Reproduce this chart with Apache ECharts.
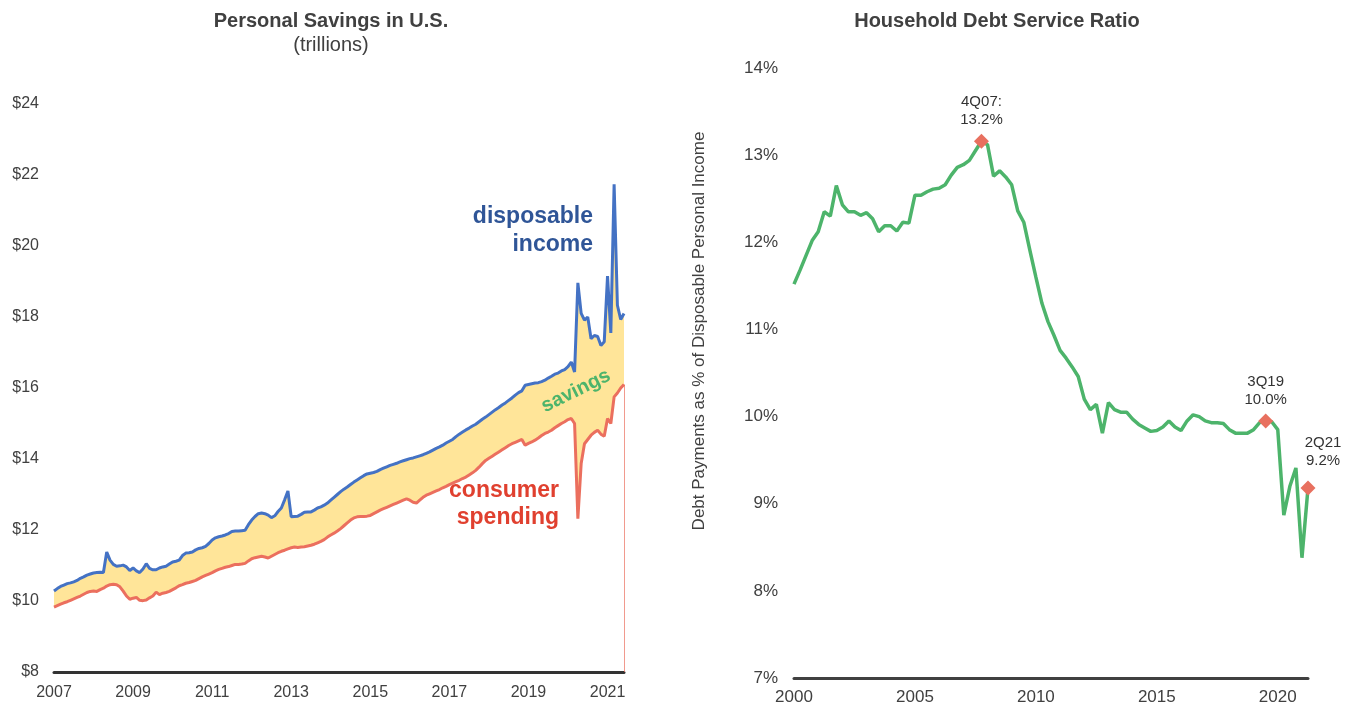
<!DOCTYPE html>
<html>
<head>
<meta charset="utf-8">
<script src="https://cdn.jsdelivr.net/npm/echarts@6/dist/echarts.min.js"></script>
<style>
  html, body { margin: 0; padding: 0; background: #fff; }
  #chart { width: 1346px; height: 710px; }
</style>
</head>
<body>
<div id="chart"></div>
<script>
// personal savings, trillions, monthly Jan 2007 - Jun 2021
const incomeValues = [
  10.28, 10.35, 10.41, 10.45, 10.49, 10.51, 10.54, 10.58, 10.64, 10.68, 10.73, 10.76,
  10.79, 10.80, 10.81, 10.80, 11.38, 11.15, 11.03, 10.98, 10.99, 11.01, 10.96, 10.86,
  10.93, 10.85, 10.80, 10.90, 11.05, 10.92, 10.88, 10.88, 10.93, 10.96, 10.98, 11.04,
  11.10, 11.12, 11.15, 11.28, 11.35, 11.36, 11.38, 11.44, 11.48, 11.50, 11.54, 11.62,
  11.72, 11.78, 11.81, 11.83, 11.86, 11.90, 11.96, 11.97, 11.97, 11.98, 11.99, 12.15,
  12.28, 12.38, 12.46, 12.48, 12.46, 12.42, 12.35, 12.40, 12.52, 12.62, 12.85, 13.10,
  12.37, 12.38, 12.39, 12.44, 12.50, 12.51, 12.51, 12.56, 12.62, 12.65, 12.70, 12.76,
  12.84, 12.92, 13.00, 13.08, 13.15, 13.21, 13.28, 13.35, 13.41, 13.47, 13.53, 13.58,
  13.60, 13.62, 13.65, 13.70, 13.74, 13.78, 13.82, 13.85, 13.88, 13.92, 13.95, 13.98,
  14.01, 14.03, 14.06, 14.09, 14.12, 14.16, 14.20, 14.25, 14.30, 14.34, 14.39, 14.45,
  14.50, 14.55, 14.63, 14.70, 14.76, 14.82, 14.87, 14.93, 14.98, 15.05, 15.12, 15.18,
  15.25, 15.32, 15.39, 15.45, 15.52, 15.58, 15.65, 15.72, 15.80, 15.87, 15.92, 16.08,
  16.10, 16.12, 16.14, 16.15, 16.18, 16.22, 16.28, 16.33, 16.39, 16.42, 16.48, 16.52,
  16.60, 16.73, 16.45, 18.96, 18.10, 17.91, 18.00, 17.39, 17.48, 17.45, 17.20, 17.30,
  19.15, 17.55, 21.74, 18.33, 17.93, 18.10
];
const spendingValues = [
  9.83, 9.87, 9.91, 9.95, 9.98, 10.02, 10.06, 10.10, 10.14, 10.19, 10.24, 10.27,
  10.28, 10.27, 10.32, 10.36, 10.42, 10.46, 10.47, 10.46, 10.40, 10.28, 10.14, 10.05,
  10.08, 10.10, 10.02, 10.01, 10.03, 10.09, 10.14, 10.25, 10.18, 10.22, 10.24, 10.27,
  10.32, 10.37, 10.43, 10.46, 10.50, 10.52, 10.55, 10.58, 10.63, 10.68, 10.72, 10.76,
  10.80, 10.85, 10.89, 10.92, 10.95, 10.97, 11.00, 11.03, 11.03, 11.04, 11.06, 11.13,
  11.19, 11.22, 11.24, 11.26, 11.24, 11.21, 11.26, 11.31, 11.36, 11.40, 11.43, 11.47,
  11.50, 11.52, 11.51, 11.52, 11.53, 11.55, 11.57, 11.60, 11.64, 11.68, 11.73, 11.80,
  11.86, 11.91, 11.97, 12.04, 12.12, 12.20, 12.28, 12.34, 12.37, 12.38, 12.38, 12.39,
  12.41, 12.46, 12.51, 12.56, 12.60, 12.64, 12.68, 12.72, 12.76, 12.80, 12.84, 12.88,
  12.84, 12.78, 12.76, 12.84, 12.92, 12.98, 13.02, 13.06, 13.10, 13.14, 13.19, 13.23,
  13.28, 13.32, 13.36, 13.40, 13.45, 13.49, 13.55, 13.61, 13.68, 13.77, 13.87, 13.96,
  14.02, 14.08, 14.14, 14.20, 14.26, 14.32, 14.38, 14.43, 14.47, 14.51, 14.55, 14.39,
  14.44, 14.48, 14.53, 14.59, 14.66, 14.72, 14.76, 14.81, 14.88, 14.94, 15.00, 15.05,
  15.11, 15.14, 15.00, 12.32, 13.87, 14.43, 14.55, 14.67, 14.75, 14.81, 14.70, 14.64,
  15.14, 15.00, 15.75, 15.86, 16.00, 16.10
];
const savingsTicks = [8, 24, 2];

// debt service ratio, %, quarterly 2000Q1 - 2021Q2
const dsrValues = [
  11.52, 11.68, 11.85, 12.02, 12.12, 12.35, 12.30, 12.65, 12.43, 12.35, 12.35, 12.31,
  12.34, 12.27, 12.12, 12.19, 12.19, 12.13, 12.23, 12.22, 12.54, 12.54, 12.58, 12.61,
  12.62, 12.66, 12.77, 12.86, 12.89, 12.94, 13.05, 13.16, 13.12, 12.76, 12.82, 12.75,
  12.66, 12.36, 12.23, 11.91, 11.60, 11.30, 11.09, 10.93, 10.76, 10.67, 10.57, 10.46,
  10.20, 10.08, 10.14, 9.81, 10.16, 10.08, 10.05, 10.05, 9.97, 9.91, 9.87, 9.83,
  9.84, 9.88, 9.95, 9.88, 9.84, 9.95, 10.02, 10.00, 9.95, 9.93, 9.93, 9.92,
  9.85, 9.81, 9.81, 9.81, 9.85, 9.93, 9.95, 9.94, 9.85, 8.87, 9.20, 9.41,
  8.38, 9.18
];
const dsrTicks = [7, 14, 1];
const highlightQuarters = ['2007Q4', '2019Q3', '2021Q2'];
const highlightLabels = ['4Q07:\n13.2%', '3Q19\n10.0%', '2Q21\n9.2%'];

// categories
const months = [];
for (let y = 2007; months.length < incomeValues.length; y++) {
  for (let m = 1; m <= 12 && months.length < incomeValues.length; m++) {
    months.push(y + '-' + (m < 10 ? '0' + m : m));
  }
}
const quarters = [];
for (let y = 2000; quarters.length < dsrValues.length; y++) {
  for (let q = 1; q <= 4 && quarters.length < dsrValues.length; q++) {
    quarters.push(y + 'Q' + q);
  }
}

const FONT = '"Liberation Sans", Arial, sans-serif';
const TEXT = '#404040';
const BLUE = '#4472C4';
const RED = '#EB6F5E';
const GREEN = '#4DB46B';
const YELLOW = '#FFE599';

// label nudges for the annotated points (layout only)
const labelOffsets = [[0, 0], [0, 0], [15, -6]];

const gapValues = incomeValues.map((v, i) => +(v - spendingValues[i]).toFixed(2));
const highlightData = highlightQuarters.map((q, i) => {
  const idx = quarters.indexOf(q);
  return {
    value: [q, dsrValues[idx]],
    label: { formatter: highlightLabels[i], offset: labelOffsets[i] }
  };
});
const lastMonth = months[months.length - 1];

const chart = echarts.init(document.getElementById('chart'));

chart.setOption({
  animation: false,
  textStyle: { fontFamily: FONT },
  title: [
    {
      text: 'Personal Savings in U.S.',
      subtext: '(trillions)',
      left: 326, top: 6, textAlign: 'center', itemGap: 4,
      textStyle: { fontFamily: FONT, fontSize: 20, fontWeight: 'bold', color: TEXT },
      subtextStyle: { fontFamily: FONT, fontSize: 20, color: TEXT }
    },
    {
      text: 'Household Debt Service Ratio',
      left: 992, top: 6, textAlign: 'center',
      textStyle: { fontFamily: FONT, fontSize: 20, fontWeight: 'bold', color: TEXT }
    }
  ],
  grid: [
    { left: 54, right: 722, top: 104, bottom: 38 },
    { left: 794, right: 38, top: 68, bottom: 32 }
  ],
  xAxis: [
    {
      type: 'category', gridIndex: 0, data: months, boundaryGap: false,
      axisLine: { lineStyle: { color: '#333', width: 3 } },
      axisTick: { show: false },
      axisLabel: {
        color: TEXT, fontSize: 16, fontFamily: FONT, margin: 13,
        interval: (i, v) => v.endsWith('-01') && (+v.slice(0, 4)) % 2 === 1,
        formatter: v => v.slice(0, 4)
      }
    },
    {
      type: 'category', gridIndex: 1, data: quarters, boundaryGap: false,
      axisLine: { lineStyle: { color: '#404040', width: 3 } },
      axisTick: { show: false },
      axisLabel: {
        color: TEXT, fontSize: 17, fontFamily: FONT, margin: 11,
        interval: (i, v) => v.endsWith('Q1') && (+v.slice(0, 4)) % 5 === 0,
        formatter: v => v.slice(0, 4)
      }
    }
  ],
  yAxis: [
    {
      type: 'value', gridIndex: 0,
      min: savingsTicks[0], max: savingsTicks[1], interval: savingsTicks[2],
      axisLine: { show: false }, axisTick: { show: false }, splitLine: { show: false },
      axisLabel: { color: TEXT, fontSize: 16, fontFamily: FONT, margin: 15, formatter: v => '$' + v }
    },
    {
      type: 'value', gridIndex: 1,
      min: dsrTicks[0], max: dsrTicks[1], interval: dsrTicks[2],
      axisLine: { show: false }, axisTick: { show: false }, splitLine: { show: false },
      axisLabel: { color: TEXT, fontSize: 17, fontFamily: FONT, margin: 16, formatter: v => v + '%' }
    }
  ],
  series: [
    {
      name: 'base', type: 'line', stack: 'gap', xAxisIndex: 0, yAxisIndex: 0,
      data: spendingValues, symbol: 'none', lineStyle: { width: 0 }, silent: true
    },
    {
      name: 'savings', type: 'line', stack: 'gap', xAxisIndex: 0, yAxisIndex: 0,
      data: gapValues, symbol: 'none', lineStyle: { width: 0 },
      areaStyle: { color: YELLOW, opacity: 1 }, silent: true
    },
    {
      name: 'disposable income', type: 'line', xAxisIndex: 0, yAxisIndex: 0,
      data: incomeValues, symbol: 'none', lineStyle: { color: BLUE, width: 3 }
    },
    {
      name: 'consumer spending', type: 'line', xAxisIndex: 0, yAxisIndex: 0,
      data: spendingValues, symbol: 'none', lineStyle: { color: RED, width: 3 },
      markLine: {
        silent: true, symbol: 'none', label: { show: false },
        lineStyle: { color: RED, width: 1, type: 'solid', opacity: 0.7 },
        data: [[
          { coord: [lastMonth, savingsTicks[0]] },
          { coord: [lastMonth, spendingValues[spendingValues.length - 1]] }
        ]]
      }
    },
    {
      name: 'debt service ratio', type: 'line', xAxisIndex: 1, yAxisIndex: 1,
      data: dsrValues, symbol: 'none', lineStyle: { color: GREEN, width: 3.5 }
    },
    {
      name: 'highlights', type: 'scatter', xAxisIndex: 1, yAxisIndex: 1, z: 10,
      data: highlightData, symbol: 'diamond', symbolSize: 15,
      itemStyle: { color: '#E8705F', opacity: 1 },
      emphasis: { disabled: true },
      label: {
        show: true, position: 'top', distance: 5,
        color: '#333', fontSize: 15, fontFamily: FONT, lineHeight: 18, align: 'center'
      }
    }
  ],
  graphic: [
    {
      type: 'text', x: 699, y: 331, z: 100, rotation: Math.PI / 2,
      style: {
        text: 'Debt Payments as % of Disposable Personal Income',
        fill: TEXT, font: '17px ' + FONT, align: 'center', verticalAlign: 'middle'
      }
    },
    {
      type: 'text', x: 593, y: 231, z: 100,
      style: {
        text: 'disposable\nincome', fill: '#2F5597', font: 'bold 23px ' + FONT,
        align: 'right', verticalAlign: 'middle', lineHeight: 28
      }
    },
    {
      type: 'text', x: 559, y: 504, z: 100,
      style: {
        text: 'consumer\nspending', fill: '#E0402F', font: 'bold 23px ' + FONT,
        align: 'right', verticalAlign: 'middle', lineHeight: 27
      }
    },
    {
      type: 'text', x: 576, y: 391, z: 100, rotation: 0.46,
      style: {
        text: 'savings', fill: GREEN, font: 'bold 20px ' + FONT,
        align: 'center', verticalAlign: 'middle'
      }
    }
  ]
});
</script>
</body>
</html>
